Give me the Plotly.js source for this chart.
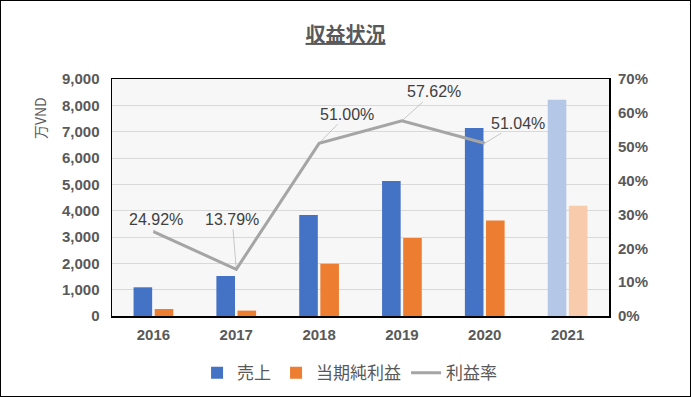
<!DOCTYPE html>
<html>
<head>
<meta charset="utf-8">
<script src="https://cdn.plot.ly/plotly-3.0.1.min.js"></script>
<style>
html,body{margin:0;padding:0;background:#fff;}
#wrap{position:relative;width:691px;height:397px;}
#chart{width:691px;height:397px;}
#frame{position:absolute;left:0;top:0;width:689px;height:395px;border:1px solid #000;pointer-events:none;}
</style>
</head>
<body>
<div id="wrap"><div id="chart"></div><div id="frame"></div></div>
<script>
const years = ['2016','2017','2018','2019','2020','2021'];
const sales = [1090, 1520, 3840, 5130, 7140, 8210];
const netProfit = [265, 205, 1980, 2960, 3630, 4190];
const marginYears = ['2016','2017','2018','2019','2020'];
const margin = [0.2492, 0.1379, 0.5100, 0.5762, 0.5104];
const marginLabels = ['24.92%','13.79%','51.00%','57.62%','51.04%'];
const labelOffsets = [[3,-12],[-4,-50],[28,-29],[32,-29],[33,-20]];
const salesColors = ['#4472c4','#4472c4','#4472c4','#4472c4','#4472c4','#b4c7e7'];
const profitColors = ['#ed7d31','#ed7d31','#ed7d31','#ed7d31','#ed7d31','#f8cbad'];

const jp = '"Noto Sans CJK JP", sans-serif';
const num = '"Liberation Sans", "Noto Sans CJK JP", sans-serif';

const traces = [
  {type:'bar', name:'売上', x:years, y:sales, marker:{color:salesColors}, yaxis:'y'},
  {type:'bar', name:'当期純利益', x:years, y:netProfit, marker:{color:profitColors}, yaxis:'y'},
  {type:'scatter', mode:'lines', name:'利益率', x:marginYears, y:margin, yaxis:'y2',
   line:{color:'#a5a5a5', width:3}}
];

const annotations = marginYears.map((yr,i)=>({
  x: years.indexOf(yr), y: margin[i], xref:'x', yref:'y2',
  text: marginLabels[i], showarrow:true, arrowhead:0, arrowwidth:0.6, arrowcolor:'#a6a6a6',
  ax: labelOffsets[i][0], ay: labelOffsets[i][1],
  font:{family:num, size:16, color:'#404040'}
}));
annotations.push({
  text:'万VND', xref:'paper', yref:'paper', x:-0.17, y:0.93, showarrow:false,
  textangle:-90, font:{family:jp, size:14, color:'#595959'}
});

const layout = {
  width:691, height:397,
  margin:{l:112, r:82, t:79, b:81},
  paper_bgcolor:'#ffffff', plot_bgcolor:'#f7f7f7',
  title:{text:'<b>収益状況</b>', x:0.5, xanchor:'center', y:0.912, yanchor:'middle',
    font:{family:jp, size:20, color:'#595959', lineposition:'under'}},
  barmode:'group', bargap:0.49, bargroupgap:0.12,
  showlegend:true,
  legend:{orientation:'h', x:0.478, xanchor:'center', yref:'container', y:0.06, yanchor:'middle',
    font:{family:jp, size:17, color:'#595959'}, traceorder:'normal'},
  xaxis:{type:'category', showline:true, mirror:true, linecolor:'#000', linewidth:1.5,
    automargin:false, ticks:'', ticklabelstandoff:4,
    tickfont:{family:num, size:15, color:'#595959', weight:'bold'}},
  yaxis:{range:[0,9000], dtick:1000, tickformat:',d', showgrid:true, gridcolor:'#d9d9d9',
    showline:true, mirror:true, linecolor:'#000', linewidth:1.5, zeroline:false,
    automargin:false, ticks:'', ticklabelstandoff:8,
    tickfont:{family:num, size:15, color:'#595959', weight:'bold'}},
  yaxis2:{range:[0,0.7], dtick:0.1, tickformat:'.0%', overlaying:'y', side:'right',
    showgrid:false, zeroline:false, automargin:false, ticks:'', ticklabelstandoff:8,
    tickfont:{family:num, size:15, color:'#595959', weight:'bold'}},
  annotations: annotations
};

Plotly.newPlot('chart', traces, layout, {displayModeBar:false, staticPlot:true});
</script>
</body>
</html>
